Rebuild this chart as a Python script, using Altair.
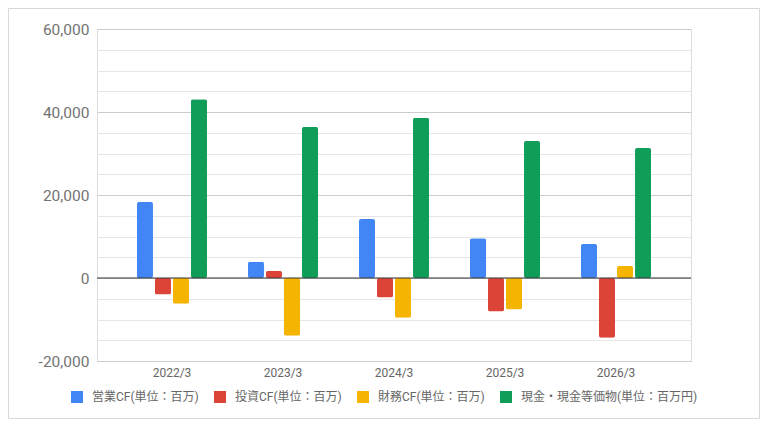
import altair as alt
import pandas as pd

years = ["2022/3", "2023/3", "2024/3", "2025/3", "2026/3"]
series = ["営業CF(単位：百万)", "投資CF(単位：百万)", "財務CF(単位：百万)", "現金・現金等価物(単位：百万円)"]
colors = ["#4285F4", "#DB4437", "#F4B400", "#0F9D58"]
operating = [18300, 3900, 14200, 9600, 8200]
investing = [-4000, 1700, -4700, -8100, -14400]
financing = [-6200, -13900, -9600, -7600, 2900]
cash = [43100, 36400, 38600, 33000, 31300]
y_ticks = list(range(-20000, 60001, 5000))

rows = []
for vals, s in zip([operating, investing, financing, cash], series):
    for y, v in zip(years, vals):
        rows.append({"year": y, "series": s, "value": v})
df = pd.DataFrame(rows)

FONT = "Roboto, 'Noto Sans CJK JP', sans-serif"

y_axis = alt.Axis(values=y_ticks, ticks=False, domain=False,
                  labelExpr="datum.value % 20000 === 0 ? replace(format(datum.value, ','), '\u2212', '-') : ''",
                  labelFontSize=15.5, labelColor="#737373", labelFont=FONT, labelPadding=8,
                  gridColor={"condition": {"test": "datum.value % 20000 === 0", "value": "#cccccc"},
                             "value": "#e6e6e6"})
y_scale = alt.Scale(domain=[-20000, 60000], nice=False)

bars = alt.Chart(df).mark_bar(cornerRadius=2).encode(
    x=alt.X("year:N", sort=years, title=None,
            scale=alt.Scale(paddingInner=0.369, paddingOuter=0.36),
            axis=alt.Axis(labelAngle=0, ticks=False, domain=False, labelPadding=6,
                          labelFontSize=12, labelColor="#666666", labelFont=FONT, grid=False)),
    xOffset=alt.XOffset("series:N", sort=series,
                        scale=alt.Scale(paddingInner=0.111, paddingOuter=0)),
    y=alt.Y("value:Q", title=None, scale=y_scale, axis=y_axis),
    color=alt.Color("series:N", sort=series,
                    scale=alt.Scale(domain=series, range=colors),
                    legend=alt.Legend(title=None, orient="none", direction="horizontal", columns=4,
                                      legendX=-26, legendY=362, padding=0,
                                      symbolType="square", symbolSize=144, symbolStrokeWidth=0,
                                      labelFontSize=12, labelColor="#666666", labelFont=FONT,
                                      labelLimit=400, labelOffset=9, columnPadding=15)),
)

zero = alt.Chart(pd.DataFrame({"v": [0]})).mark_rule(color="#333333", strokeWidth=1).encode(
    y=alt.Y("v:Q", title=None, scale=y_scale, axis=y_axis)
)

frame = alt.Chart(pd.DataFrame({"f": [0]})).mark_rect(
    fillOpacity=0, stroke="#d9d9d9", strokeWidth=1
).encode(
    x=alt.value(-88.5), x2=alt.value(662.5), y=alt.value(-20.5), y2=alt.value(389.5)
)

chart = alt.layer(bars, zero, frame).properties(
    width=594, height=332,
    autosize=alt.AutoSizeParams(type="none"),
    padding={"left": 89, "top": 21, "right": 69, "bottom": 58},
).configure_view(stroke="transparent", strokeWidth=0).configure(background="white")

chart.save("out.html", embed_options={"renderer": "svg", "actions": False})
